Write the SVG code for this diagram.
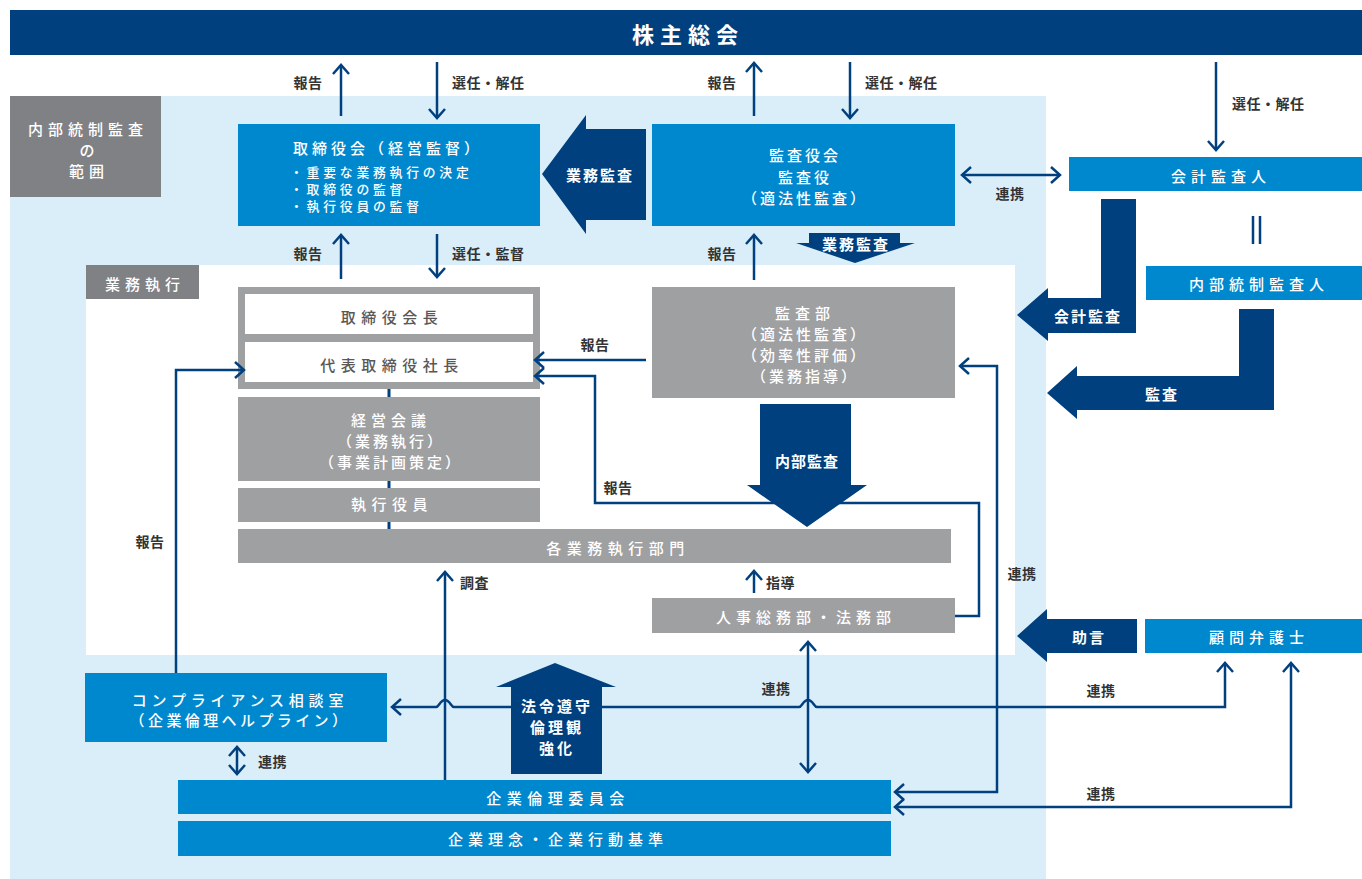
<svg xmlns="http://www.w3.org/2000/svg" width="1362" height="879" viewBox="0 0 1362 879">
<defs>
<style>
text{font-family:'Noto Sans CJK JP','Noto Sans CJK SC',sans-serif;dominant-baseline:central}
.w{fill:#fff;font-size:15px;font-weight:500;text-anchor:middle}
.wl{fill:#fff;font-size:15px;font-weight:500}
.d{fill:#595757;font-size:15px;font-weight:500;text-anchor:middle;letter-spacing:5.5px}
.b{fill:#fff;font-size:15px;font-weight:bold;text-anchor:middle}
.lb{fill:#333;font-size:14px;font-weight:bold;letter-spacing:0.5px}
.lbc{fill:#333;font-size:14px;font-weight:bold;text-anchor:middle;letter-spacing:0.5px}
.navy{fill:#00407f}
.blue{fill:#0088cf}
.gray{fill:#9fa0a2}
.dgray{fill:#808184}
.ln{fill:none;stroke:#00407f;stroke-width:2.5}
</style>
<marker id="ah" viewBox="-12 -10 16 20" refX="0" refY="0" markerWidth="16" markerHeight="20" markerUnits="userSpaceOnUse" orient="auto-start-reverse"><path d="M-9,-8 L0,0 L-9,8" fill="none" stroke="#00407f" stroke-width="2.5"/></marker>
</defs>
<rect width="1362" height="879" fill="#fff"/>
<rect x="10" y="96" width="1036" height="783" fill="#daeefa"/>
<rect x="86" y="265" width="929" height="390" fill="#fff"/>

<g id="kabunushi"><rect x="10" y="10" width="1352" height="45" class="navy"/><text x="688" y="33" fill="#fff" font-size="22" font-weight="bold" text-anchor="middle" letter-spacing="6">株主総会</text></g>

<g id="scope"><rect x="10" y="96" width="151" height="101" class="dgray"/><text class="w" x="88" y="128" letter-spacing="5">内部統制監査</text><text class="w" x="87" y="149">の</text><text class="w" x="89" y="170" letter-spacing="5">範囲</text></g>

<g id="gyomu-label"><rect x="86" y="265" width="113" height="34" class="dgray"/><text class="w" x="145" y="283" letter-spacing="5">業務執行</text></g>

<g id="torishimariyakukai"><rect x="238" y="124" width="302" height="102" class="blue"/><text class="wl" x="293" y="147" letter-spacing="4">取締役会（経営監督）</text><text class="wl" x="290" y="171" letter-spacing="3.8" style="font-size:12.8px">・重要な業務執行の決定</text><text class="wl" x="290" y="188" letter-spacing="3.8" style="font-size:12.8px">・取締役の監督</text><text class="wl" x="290" y="205" letter-spacing="3.8" style="font-size:12.8px">・執行役員の監督</text></g>

<g id="gyomukansa-arrow"><polygon class="navy" points="646,129 586,129 586,115 542,174 586,234 586,220 646,220"/><text class="b" x="600" y="174" letter-spacing="2">業務監査</text></g>

<g id="kansayakukai"><rect x="652" y="124" width="303" height="102" class="blue"/><text class="w" x="805" y="154" letter-spacing="3">監査役会</text><text class="w" x="805" y="176" letter-spacing="3">監査役</text><text class="w" x="805" y="197" letter-spacing="3">（適法性監査）</text></g>

<g id="gyomukansa-small"><polygon class="navy" points="809,233 900,233 900,243 915,243 855,263 796,243 809,243"/><text class="b" x="856" y="243" letter-spacing="2">業務監査</text></g>

<g id="kaikeikansanin"><rect x="1069" y="157" width="293" height="34" class="blue"/><text class="w" x="1221" y="175" letter-spacing="5">会計監査人</text></g>

<g id="equal"><path d="M1253,216 V244 M1260,216 V244" stroke="#00407f" stroke-width="2.5"/></g>

<g id="naibutoseikansanin"><rect x="1146" y="266" width="216" height="34" class="blue"/><text class="w" x="1259" y="283" letter-spacing="5">内部統制監査人</text></g>

<g id="kaikeikansa-arrow"><polygon class="navy" points="1101,199 1136,199 1136,333 1048,333 1048,341 1017,315 1048,288 1048,298 1101,298"/><text class="b" x="1088" y="315" letter-spacing="2">会計監査</text></g>

<g id="kansa-arrow"><polygon class="navy" points="1239,309 1274,309 1274,410 1077,410 1077,419 1047,393 1077,366 1077,376 1239,376"/><text class="b" x="1162" y="393" letter-spacing="2">監査</text></g>

<g id="executive-frame"><rect x="238" y="287" width="302" height="102" class="gray"/><rect x="245" y="294" width="288" height="40" fill="#fff"/><rect x="245" y="342" width="288" height="40" fill="#fff"/><text class="d" x="392" y="316">取締役会長</text><text class="d" x="392" y="364">代表取締役社長</text></g>

<g id="keieikaigi"><rect x="238" y="397" width="302" height="84" class="gray"/><text class="w" x="391" y="419" letter-spacing="5">経営会議</text><text class="w" x="391" y="440" letter-spacing="3">（業務執行）</text><text class="w" x="391" y="461" letter-spacing="3">（事業計画策定）</text></g>

<g id="shikkoyakuin"><rect x="238" y="488" width="302" height="34" class="gray"/><text class="w" x="392" y="503" letter-spacing="5.5">執行役員</text></g>

<g id="kakubumon"><rect x="238" y="529" width="713" height="34" class="gray"/><text class="w" x="618" y="547" letter-spacing="5.5">各業務執行部門</text></g>

<g id="kansabu"><rect x="652" y="287" width="303" height="111" class="gray"/><text class="w" x="805" y="312" letter-spacing="5">監査部</text><text class="w" x="805" y="333" letter-spacing="3">（適法性監査）</text><text class="w" x="805" y="354" letter-spacing="3">（効率性評価）</text><text class="w" x="805" y="375" letter-spacing="3">（業務指導）</text></g>

<g id="naibukansa-arrow"><polygon class="navy" points="760,404 851,404 851,485 867,485 807,527 747,485 760,485"/><text class="b" x="807" y="460" letter-spacing="1">内部監査</text></g>

<g id="jinji"><rect x="652" y="598" width="303" height="35" class="gray"/><text class="w" x="806" y="616" letter-spacing="5">人事総務部・法務部</text></g>

<g id="jogen-arrow"><polygon class="navy" points="1137,619 1047,619 1047,609 1017,636 1047,662 1047,653 1137,653"/><text class="b" x="1089" y="636" letter-spacing="2">助言</text></g>

<g id="komon"><rect x="1145" y="619" width="217" height="34" class="blue"/><text class="w" x="1259" y="636" letter-spacing="5">顧問弁護士</text></g>

<g id="compliance"><rect x="85" y="673" width="302" height="69" class="blue"/><text class="w" x="240" y="699" letter-spacing="4.8">コンプライアンス相談室</text><text class="w" x="240" y="719" letter-spacing="3.4">（企業倫理ヘルプライン）</text></g>

<g id="kigyorinri"><rect x="178" y="780" width="713" height="34" class="blue"/><text class="w" x="558" y="797" letter-spacing="5.5">企業倫理委員会</text></g>

<g id="kigyorinen"><rect x="178" y="821" width="713" height="35" class="blue"/><text class="w" x="558" y="838" letter-spacing="5">企業理念・企業行動基準</text></g>

<g id="connectors">
<path class="ln" d="M341,116 V65" marker-end="url(#ah)"/>
<path class="ln" d="M437,62 V118" marker-end="url(#ah)"/>
<path class="ln" d="M341,279 V235" marker-end="url(#ah)"/>
<path class="ln" d="M437,234 V277" marker-end="url(#ah)"/>
<path class="ln" d="M754,116 V63" marker-end="url(#ah)"/>
<path class="ln" d="M850,62 V118" marker-end="url(#ah)"/>
<path class="ln" d="M1216,62 V150" marker-end="url(#ah)"/>
<path class="ln" d="M962,175 H1060" marker-start="url(#ah)" marker-end="url(#ah)"/>
<path class="ln" d="M754,280 V235" marker-end="url(#ah)"/>
<path class="ln" d="M646,360 H535" marker-end="url(#ah)"/>
<path class="ln" d="M955,616 H979 V503 H595 V376 H535" marker-end="url(#ah)"/>
<path class="ln" d="M754,593 V571" marker-end="url(#ah)"/>
<path class="ln" d="M445,780 V572" marker-end="url(#ah)"/>
<path class="ln" d="M176,673 V370 H244" marker-end="url(#ah)"/>
<path class="ln" d="M808,642 V772" marker-start="url(#ah)" marker-end="url(#ah)"/>
<path class="ln" d="M1225,663 V707 H817 C814,707 813,700 808,700 C803,700 802,707 799,707 H454 C451,707 450,700 445,700 C440,700 439,707 436,707 H392" marker-start="url(#ah)" marker-end="url(#ah)"/>
<path class="ln" d="M237,747 V774" marker-start="url(#ah)" marker-end="url(#ah)"/>
<path class="ln" d="M960,366 H997 V792 H895" marker-start="url(#ah)" marker-end="url(#ah)"/>
<path class="ln" d="M1291,663 V807 H895" marker-start="url(#ah)" marker-end="url(#ah)"/>
<path d="M389,389 V397 M389,481 V488 M389,522 V529" stroke="#00407f" stroke-width="3"/>
</g>

<g id="horei-arrow"><polygon class="navy" points="511,774 602,774 602,687 616,687 555,663 496,687 511,687"/><text class="b" x="557" y="705" letter-spacing="3">法令遵守</text><text class="b" x="557" y="726" letter-spacing="3">倫理観</text><text class="b" x="557" y="747" letter-spacing="3">強化</text></g>

<g id="labels">
<text class="lbc" x="308" y="82">報告</text>
<text class="lb" x="452" y="82">選任・解任</text>
<text class="lbc" x="308" y="253">報告</text>
<text class="lb" x="452" y="253">選任・監督</text>
<text class="lbc" x="722" y="82">報告</text>
<text class="lb" x="865" y="82">選任・解任</text>
<text class="lb" x="1232" y="103">選任・解任</text>
<text class="lbc" x="722" y="253">報告</text>
<text class="lbc" x="1010" y="193">連携</text>
<text class="lbc" x="595" y="344">報告</text>
<text class="lbc" x="618" y="487">報告</text>
<text class="lbc" x="150" y="541">報告</text>
<text class="lb" x="460" y="582">調査</text>
<text class="lb" x="766" y="582">指導</text>
<text class="lbc" x="1022" y="573">連携</text>
<text class="lbc" x="776" y="688">連携</text>
<text class="lbc" x="1101" y="690">連携</text>
<text class="lbc" x="1101" y="793">連携</text>
<text class="lb" x="258" y="761">連携</text>
</g>
</svg>
